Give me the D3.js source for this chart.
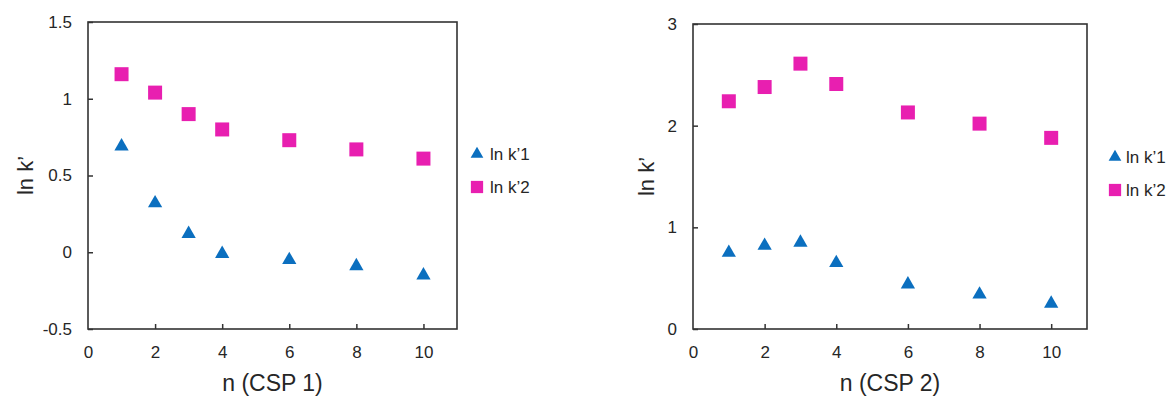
<!DOCTYPE html>
<html>
<head>
<meta charset="utf-8">
<script src="https://cdn.jsdelivr.net/npm/d3@7"></script>
<style>
  body { margin: 0; background: #fff; }
  svg { font-family: "Liberation Sans", Arial, sans-serif; }
</style>
</head>
<body>
<svg id="chart" width="1172" height="396"></svg>
<script>
const nValues = [1, 2, 3, 4, 6, 8, 10]

// CSP 1
const csp1K1 = [0.69, 0.32, 0.12, -0.01, -0.05, -0.09, -0.15]
const csp1K2 = [1.16, 1.04, 0.90, 0.80, 0.73, 0.67, 0.61]

// CSP 2
const csp2K1 = [0.75, 0.82, 0.85, 0.65, 0.44, 0.34, 0.25]
const csp2K2 = [2.24, 2.38, 2.61, 2.41, 2.13, 2.02, 1.88]

const xTicks = [0, 2, 4, 6, 8, 10]
const yTicks1 = [-0.5, 0, 0.5, 1, 1.5]
const yTicks2 = [0, 1, 2, 3]
const seriesNames = ["ln k\u20191", "ln k\u20192"]

const blue = "#0b6fbf"
const pink = "#e81fb0"
const ink = "#262626"

const svg = d3.select('#chart')

function panel (opts) {
  const { left, right, top, bottom, yDomain, yTicks, k1, k2, xTitle, yTitleX, legendX, legendY, textGap } = opts

  const xScale = d3.scaleLinear().domain([0, 11]).range([left, right])
  const yScale = d3.scaleLinear().domain(yDomain).range([bottom, top])

  const g = svg.append('g')

  // frame
  g.append('rect')
    .attr('x', left).attr('y', top)
    .attr('width', right - left).attr('height', bottom - top)
    .attr('fill', 'none').attr('stroke', '#333').attr('stroke-width', 1.6)

  // x axis, ticks pointing inward
  const xAxis = d3.axisTop(xScale).tickValues(xTicks).tickSize(5).tickFormat(d3.format('d'))
  const xg = g.append('g').attr('transform', `translate(0, ${bottom})`).call(xAxis)
  xg.select('.domain').remove()
  xg.selectAll('.tick line').attr('stroke', '#333').attr('stroke-width', 1.5)
    .filter(d => d === 0).remove()
  xg.selectAll('.tick text')
    .attr('y', 29).attr('dy', 0)
    .attr('font-size', 17).attr('fill', ink)
    .style('font-family', '"Liberation Sans", Arial, sans-serif')

  // y axis, ticks pointing inward
  const yAxis = d3.axisRight(yScale).tickValues(yTicks).tickSize(5).tickFormat(d => String(d))
  const yg = g.append('g').attr('transform', `translate(${left}, 0)`).call(yAxis)
  yg.select('.domain').remove()
  yg.selectAll('.tick line').attr('stroke', '#333').attr('stroke-width', 1.5)
  yg.selectAll('.tick text')
    .attr('x', -16).attr('text-anchor', 'end')
    .attr('font-size', 17).attr('fill', ink)
    .style('font-family', '"Liberation Sans", Arial, sans-serif')

  // axis titles
  g.append('text')
    .attr('x', (left + right) / 2).attr('y', bottom + 62)
    .attr('text-anchor', 'middle').attr('font-size', 23).attr('fill', ink)
    .text(xTitle)

  g.append('text')
    .attr('transform', `translate(${yTitleX}, ${(top + bottom) / 2}) rotate(-90)`)
    .attr('text-anchor', 'middle').attr('font-size', 22).attr('fill', ink)
    .text("ln k\u2019")

  const tri = d3.symbol().type(d3.symbolTriangle).size(88)
  const sq = d3.symbol().type(d3.symbolSquare).size(196)

  g.selectAll('.k2')
    .data(nValues.map((n, i) => ({ n, v: k2[i] })))
    .join('path')
    .attr('d', sq)
    .attr('transform', d => `translate(${xScale(d.n)}, ${yScale(d.v)})`)
    .attr('fill', pink)

  g.selectAll('.k1')
    .data(nValues.map((n, i) => ({ n, v: k1[i] })))
    .join('path')
    .attr('d', tri)
    .attr('transform', d => `translate(${xScale(d.n)}, ${yScale(d.v)})`)
    .attr('fill', blue)

  // legend
  const step = 33
  const leg = g.append('g')
  leg.append('path').attr('d', d3.symbol().type(d3.symbolTriangle).size(70)).attr('fill', blue)
    .attr('transform', `translate(${legendX}, ${legendY})`)
  leg.append('path').attr('d', d3.symbol().type(d3.symbolSquare).size(150)).attr('fill', pink)
    .attr('transform', `translate(${legendX}, ${legendY + step})`)
  leg.selectAll('text')
    .data(seriesNames)
    .join('text')
    .attr('x', legendX + textGap)
    .attr('y', (d, i) => legendY + i * step + 6)
    .attr('font-size', 17).attr('fill', ink)
    .text(d => d)
}

panel({
  left: 88, right: 457, top: 22, bottom: 329,
  yDomain: [-0.5, 1.5], yTicks: yTicks1,
  k1: csp1K1, k2: csp1K2, xTitle: "n (CSP 1)",
  yTitleX: 33, legendX: 477, legendY: 154, textGap: 13
})

panel({
  left: 693, right: 1087, top: 24, bottom: 329,
  yDomain: [0, 3], yTicks: yTicks2,
  k1: csp2K1, k2: csp2K2, xTitle: "n (CSP 2)",
  yTitleX: 654, legendX: 1115, legendY: 157, textGap: 11
})
</script>
</body>
</html>
